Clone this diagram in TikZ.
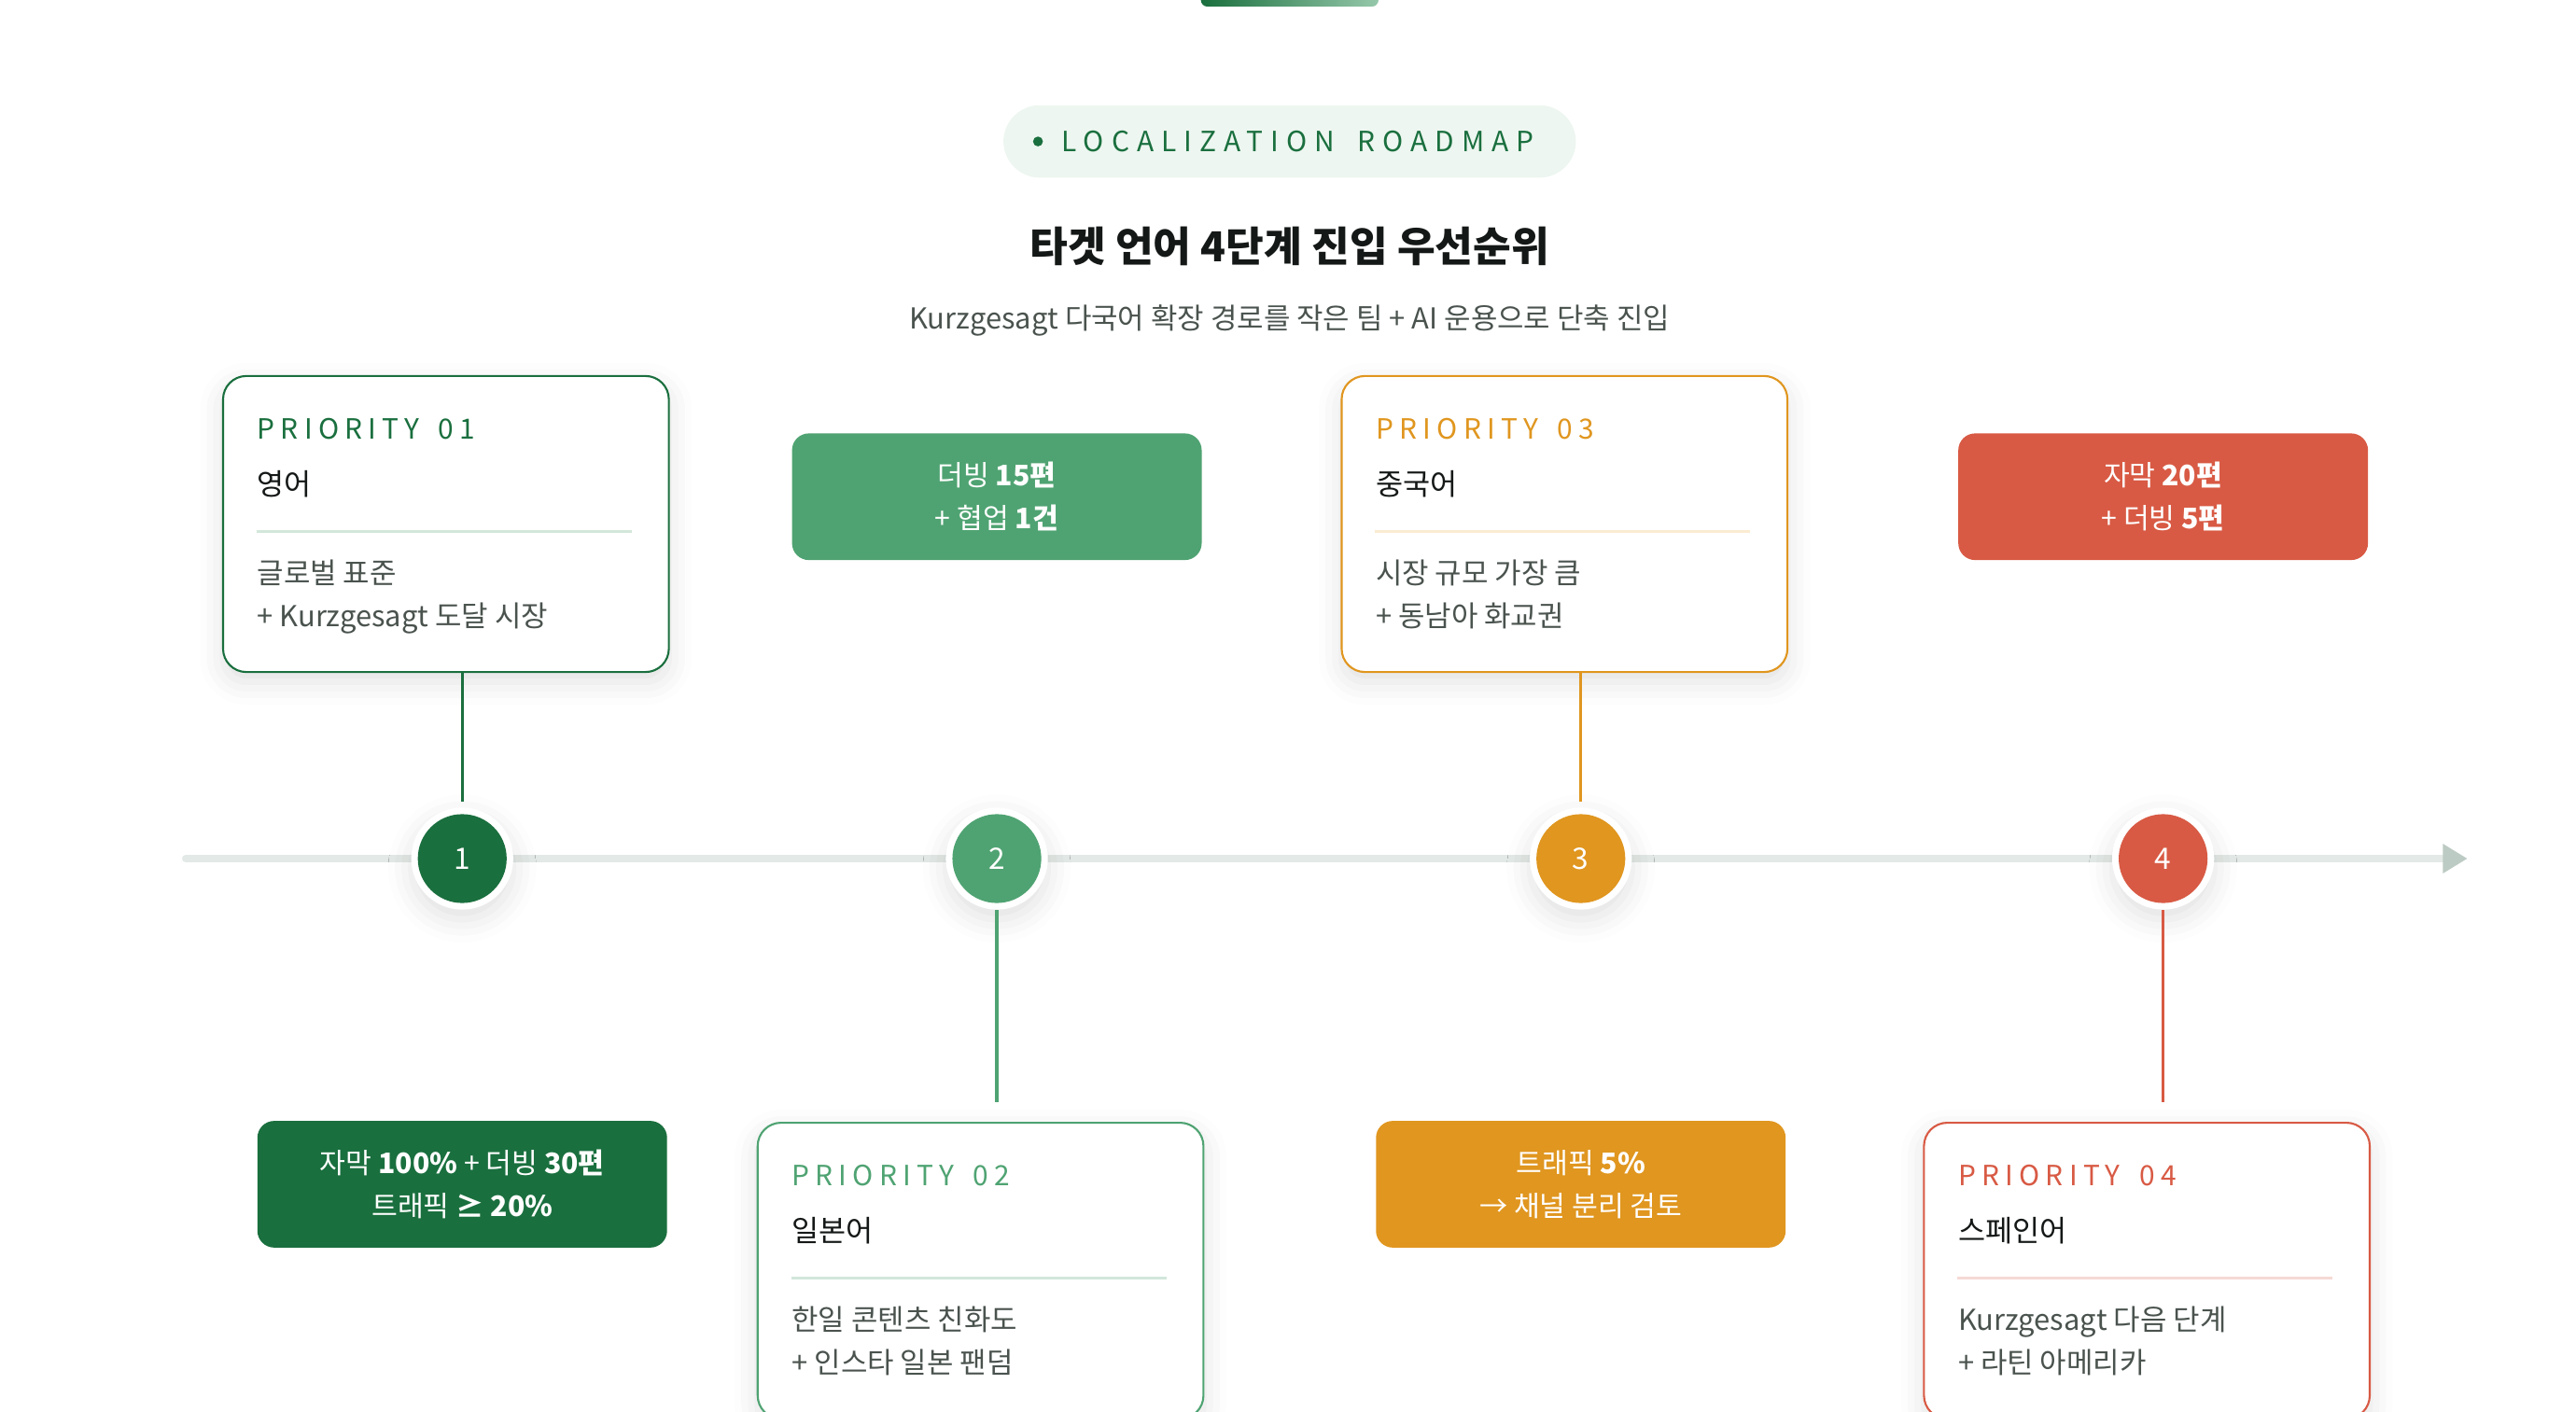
\documentclass[tikz,border=0pt]{standalone}
\usepackage{fontspec}
\setmainfont{Noto Sans CJK KR}
\usetikzlibrary{positioning,arrows.meta,shadows.blur}
\definecolor{darkGreen}{RGB}{26,111,62}
\definecolor{midGreen}{RGB}{79,163,114}
\definecolor{amber}{RGB}{224,150,31}
\definecolor{coral}{RGB}{216,90,68}
\definecolor{lineGray}{RGB}{227,233,230}
\definecolor{tipGray}{RGB}{188,203,195}
\definecolor{bodyGray}{RGB}{74,83,78}
\definecolor{inkBlack}{RGB}{20,24,22}
\definecolor{badgeFill}{RGB}{237,246,240}
\definecolor{greenTint}{RGB}{211,231,219}
\definecolor{amberTint}{RGB}{251,235,210}
\definecolor{coralTint}{RGB}{246,218,213}
\tikzstyle{roadmap} = [x = 0.017625cm, y = -0.017625cm]
\tikzstyle{softShadow} = [blur shadow={shadow xshift=0pt, shadow yshift=-3pt, shadow blur radius=7pt, shadow opacity=12}]
\tikzstyle{cardStyle} = [draw, fill=white, rounded corners = .25cm, line width=.6pt, minimum width=4.776cm, minimum height=3.172cm, softShadow]
\tikzstyle{pillStyle} = [rounded corners = .18cm, minimum width=4.389cm, minimum height=1.357cm, text=white, align=center, font=\fontsize{8.6}{13}\selectfont]
\tikzstyle{priorityText} = [inner sep=0, text height=.75em, text depth=.15em, font=\fontsize{8.5}{10}\selectfont\addfontfeatures{LetterSpace=21}]
\tikzstyle{langText} = [inner sep=0, text height=.75em, text depth=.15em, text=inkBlack, font=\fontsize{9}{11}\selectfont]
\tikzstyle{bodyText} = [inner sep=0, text height=.75em, text depth=.15em, text=bodyGray, font=\fontsize{8.8}{10}\selectfont]
\tikzstyle{stepRing} = [circle, fill=white, minimum size=1.093cm, inner sep=0, softShadow]
\tikzstyle{stepDot} = [circle, minimum size=.952cm, inner sep=0, text=white, font=\fontsize{9}{10}\selectfont]
\tikzstyle{linkLine} = [line width=.9pt]
\tikzstyle{timeLine} = [color=lineGray, line width=2.4pt, line cap=round]
\newcommand{\priorityCard}[9]{
  \node [cardStyle, draw=#4, anchor=north west] (#1) at (#2,#3) {};
  \node [priorityText, text=#4, anchor=west] (#1Title) at (#2+21,#3+33) {PRIORITY\hspace{.25em} #6};
  \node [langText, anchor=west] (#1Lang) at (#2+21,#3+67) {#7};
  \draw [color=#5, line width=1pt] (#2+21,#3+95) -- +(228,0);
  \node [bodyText, anchor=west] (#1Body) at (#2+21,#3+121) {#8};
  \node [bodyText, anchor=west] (#1More) at (#2+21,#3+147) {#9};
}

\begin{document}
\begin{tikzpicture}[roadmap]
  \useasboundingbox (0,0) rectangle (1566,857.9);
  % header
  \shade [left color=darkGreen, right color=midGreen!60, rounded corners=2pt] (730,-8) rectangle (838,4);
  \node [fill=badgeFill, rounded corners=.39cm, minimum width=6.133cm, minimum height=.776cm] (badge) at (784,86) {};
  \fill [darkGreen] (631,86) circle (3);
  \node [anchor=west, inner sep=0, text=darkGreen, font=\fontsize{8.5}{10}\selectfont\addfontfeatures{LetterSpace=27}] (badgeText) at (645,86) {LOCALIZATION\hspace{.3em} ROADMAP};
  \node [text=inkBlack, font=\fontsize{12.6}{15}\bfseries\selectfont] (title) at (784,150) {타겟 언어 4단계 진입 우선순위};
  \node [text=bodyGray, font=\fontsize{8.8}{10}\selectfont] (subtitle) at (784,195) {Kurzgesagt 다국어 확장 경로를 작은 팀 + AI 운용으로 단축 진입};

  % timeline
  \coordinate (lineStart) at (113,522);
  \coordinate (lineEnd) at (1500,522);
  \draw [timeLine, -{Triangle[length=7.5pt, width=8.5pt, color=tipGray]}] (lineStart) -- (lineEnd);

  \node [stepRing] (step1) at (281,522) {};
  \node [stepRing] (step2) at (606,522) {};
  \node [stepRing] (step3) at (961,522) {};
  \node [stepRing] (step4) at (1315,522) {};
  \node [stepDot, fill=darkGreen] (dot1) at (step1) {1};
  \node [stepDot, fill=midGreen] (dot2) at (step2) {2};
  \node [stepDot, fill=amber] (dot3) at (step3) {3};
  \node [stepDot, fill=coral] (dot4) at (step4) {4};

  % cards
  \priorityCard{card1}{135}{228}{darkGreen}{greenTint}{01}{영어}{글로벌 표준}{+ Kurzgesagt 도달 시장}
  \priorityCard{card2}{460}{682}{midGreen}{greenTint}{02}{일본어}{한일 콘텐츠 친화도}{+ 인스타 일본 팬덤}
  \priorityCard{card3}{815}{228}{amber}{amberTint}{03}{중국어}{시장 규모 가장 큼}{+ 동남아 화교권}
  \priorityCard{card4}{1169}{682}{coral}{coralTint}{04}{스페인어}{Kurzgesagt 다음 단계}{+ 라틴 아메리카}

  % targets
  \node [pillStyle, fill=midGreen] (goal2) at (606,302) {더빙 \textbf{15편}\\+ 협업 \textbf{1건}};
  \node [pillStyle, fill=coral] (goal4) at (1315,302) {자막 \textbf{20편}\\+ 더빙 \textbf{5편}};
  \node [pillStyle, fill=darkGreen] (goal1) at (281,720) {자막 \textbf{100\%} + 더빙 \textbf{30편}\\트래픽 \textbf{≥ 20\%}};
  \node [pillStyle, fill=amber] (goal3) at (961,720) {트래픽 \textbf{5\%}\\→ 채널 분리 검토};

  % links
  \draw [linkLine, darkGreen, shorten >=1.5pt] (card1.south -| step1) -- (step1.north);
  \draw [linkLine, amber, shorten >=1.5pt] (card3.south -| step3) -- (step3.north);
  \draw [linkLine, midGreen, shorten >=6pt] (step2.south) -- (step2.south |- card2.north);
  \draw [linkLine, coral, shorten >=6pt] (step4.south) -- (step4.south |- card4.north);
\end{tikzpicture}
\end{document}
